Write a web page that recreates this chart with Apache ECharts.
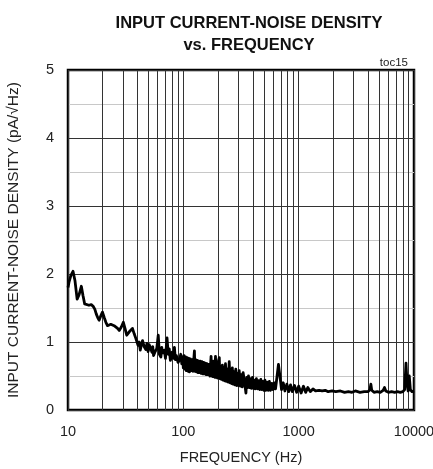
<!DOCTYPE html>
<html><head><meta charset="utf-8">
<script src="https://cdn.jsdelivr.net/npm/echarts@6/dist/echarts.min.js"></script>
<style>html,body{margin:0;padding:0;background:#fff}#c{width:433px;height:469px}</style>
</head><body><div id="c"></div>
<script>
// 10 Hz – 100 Hz
const freqLow = [10,10.2,10.6,11.05,11.5,12.0,12.5,13.05,13.5,13.95,
  14.5,15.2,15.9,16.6,17.1,17.6,18.1,18.6,19.2,19.9,
  20.6,21.3,22.0,22.7,23.5,24.3,25.1,26,26.9,27.8,
  29,30.2,31.2,32.3,34,36.2,37.5,38.8,40.5,41.4,
  42.3,43.3,44.3,45.8,47.3,48.4,49.5,50.6,51.7,53.5,
  54.3,55.2,57,58.8,60.6,62,63.9,65,66,68.4,
  70,71,72.2,74,75.5,77.2,80,81.8,83.7,85.3,
  87,90,92.3,95,97,98.8];
const noiseLow = [1.80,1.88,1.98,2.04,1.90,1.63,1.70,1.82,1.68,1.56,
  1.57,1.54,1.55,1.52,1.48,1.41,1.36,1.32,1.38,1.44,
  1.36,1.29,1.24,1.22,1.26,1.28,1.24,1.22,1.20,1.17,
  1.22,1.29,1.20,1.10,1.15,1.20,1.12,1.05,0.95,1.00,
  0.88,0.96,1.02,0.93,0.89,0.98,0.86,0.96,0.92,0.85,
  0.93,0.80,0.86,0.90,1.10,0.82,0.78,0.92,0.84,0.88,
  0.76,0.90,1.06,0.82,0.90,0.73,0.85,0.76,0.92,0.74,
  0.80,0.70,0.73,0.82,0.68,0.78];
// 100 Hz – 710 Hz
const freqMid = [100,101.5,103,104.5,106,108,110,111.5,113,115,
  117,119,121,124.8,126,128,130,132,134,136,
  138,140,142.5,145,147.5,150,152.5,155,157.5,160,
  163,166,170,174,176,178,180,182,184,186,
  188,190,192.5,195,197.5,200,205,207.5,210,214,
  218,221,225,228,232,236,240,245,250,254,
  258,262,266,270,275,280,285,290,295,300,
  305,312,318,324,330,340,349,355,360,367,
  375,382,390,398,405,412,420,430,440,450,
  460,470,480,490,500,510,520,532,545,557,
  570,585,600,615,630,650,668,690,710];
const noiseMid = [0.62,0.80,0.60,0.78,0.58,0.77,0.57,0.76,0.56,0.75,
  0.58,0.74,0.57,0.87,0.57,0.74,0.56,0.73,0.55,0.72,
  0.55,0.72,0.54,0.71,0.53,0.70,0.53,0.69,0.52,0.68,
  0.52,0.67,0.50,0.79,0.50,0.68,0.49,0.72,0.49,0.66,
  0.48,0.79,0.48,0.66,0.47,0.70,0.77,0.46,0.64,0.45,
  0.66,0.44,0.62,0.43,0.68,0.42,0.60,0.41,0.71,0.40,
  0.58,0.39,0.62,0.38,0.56,0.37,0.60,0.36,0.54,0.36,
  0.58,0.35,0.52,0.34,0.55,0.40,0.25,0.48,0.33,0.50,
  0.33,0.46,0.32,0.48,0.32,0.44,0.31,0.46,0.31,0.43,
  0.30,0.45,0.30,0.42,0.29,0.44,0.29,0.41,0.29,0.42,
  0.29,0.39,0.30,0.40,0.31,0.50,0.67,0.48,0.30];
// 735 Hz – 10 kHz
const freqHigh = [735,760,790,820,850,880,920,960,1000,1050,
  1100,1150,1200,1260,1330,1400,
  1500,1600,1700,1800,1950,2100,2300,2500,2700,2900,
  3100,3400,3700,4000,4150,4227,4300,4500,4800,5100,
  5400,5547,5700,6000,6400,6800,7200,7600,8000,8300,
  8523,8700,8900,9100,9300,9600,10000];
const noiseHigh = [0.40,0.28,0.38,0.27,0.37,0.27,0.36,0.26,0.35,0.25,
  0.35,0.26,0.33,0.27,0.31,0.28,
  0.29,0.28,0.29,0.27,0.28,0.27,0.28,0.26,0.27,0.26,
  0.28,0.26,0.27,0.27,0.30,0.38,0.29,0.26,0.27,0.26,
  0.29,0.33,0.28,0.26,0.27,0.26,0.27,0.26,0.27,0.30,
  0.69,0.40,0.28,0.50,0.30,0.27,0.28];
const minorFreqLines = [20,30,40,50,60,70,80,90,200,300,400,500,600,700,800,900,2000,3000,4000,5000,6000,7000,8000,9000];
const yTicks = [0,1,2,3,4,5];

const freqHz = freqLow.concat(freqMid, freqHigh);
const noiseDensity = noiseLow.concat(noiseMid, noiseHigh);

const chart = echarts.init(document.getElementById('c'), null, {renderer:'canvas'});
const font = '"Liberation Sans", Arial, sans-serif';
chart.setOption({
  animation:false,
  title:[{
    text:'INPUT CURRENT-NOISE DENSITY\nvs. FREQUENCY',
    left:244, top:7, textAlign:'center',
    textStyle:{fontFamily:font,fontSize:16.5,fontWeight:'bold',color:'#111',lineHeight:22}
  },{
    text:'toc15', right:20, top:52,
    textStyle:{fontFamily:font,fontSize:11.5,fontWeight:'normal',color:'#222'}
  }],
  grid:{left:68,right:19,top:70,bottom:59,show:true,borderColor:'#000',borderWidth:2.5,backgroundColor:'transparent',outerBoundsMode:'none',containLabel:false},
  xAxis:{
    type:'log', logBase:10, min:10, max:10000,
    name:'FREQUENCY (Hz)', nameLocation:'middle', nameGap:40,
    nameTextStyle:{fontFamily:font,fontSize:14.5,color:'#222'},
    axisLine:{show:false}, axisTick:{show:false},
    axisLabel:{fontFamily:font,fontSize:14.5,color:'#222',margin:14,formatter:function(v){return String(v);}},
    splitLine:{show:true,lineStyle:{color:'#333',width:1}}
  },
  yAxis:{
    type:'value', min:0, max:5, interval:1,
    name:'INPUT CURRENT-NOISE DENSITY (pA/√Hz)', nameLocation:'middle', nameGap:46,
    nameTextStyle:{fontFamily:font,fontSize:15.5,color:'#222'},
    axisLine:{show:false}, axisTick:{show:false},
    axisLabel:{fontFamily:font,fontSize:14.5,color:'#222',margin:14,
      formatter:function(v){return yTicks.indexOf(v)>=0?String(v):'';}},
    splitLine:{show:true,lineStyle:{color:'#333',width:1}},
    minorTick:{show:false,splitNumber:2},
    minorSplitLine:{show:true,lineStyle:{color:'#c8c8c8',width:1}}
  },
  series:[{
    type:'line', z:1, silent:true,
    data:[[10,0]], symbol:'none', lineStyle:{opacity:0},
    markLine:{silent:true,symbol:['none','none'],label:{show:false},
      lineStyle:{color:'#333',width:1,type:'solid'},
      data:minorFreqLines.map(f=>({xAxis:f}))}
  },{
    type:'line', z:5,
    data:freqHz.map((f,i)=>[f,noiseDensity[i]]),
    symbol:'none', smooth:false,
    lineStyle:{color:'#000',width:2.8,join:'round'}
  }]
});
</script></body></html>
